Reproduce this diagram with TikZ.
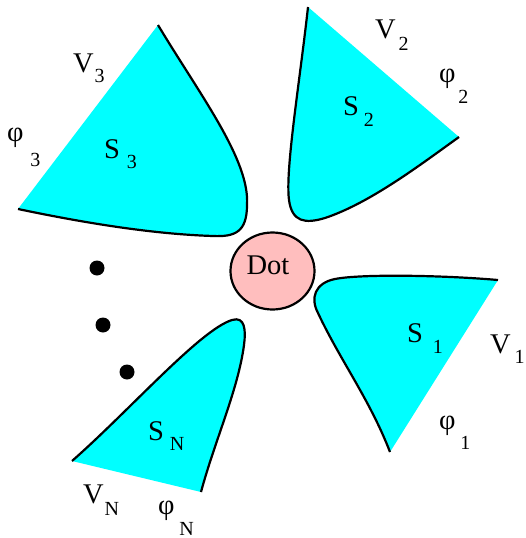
\documentclass[tikz,border=0pt]{standalone}
\usepackage{fontspec}
\setmainfont{Liberation Serif}
\newfontfamily\tnr{Liberation Serif}
\usetikzlibrary{shapes.geometric}
\newcommand\mainf{\tnr\fontsize{28.5}{30}\selectfont}
\newcommand\subf{\tnr\fontsize{20}{20}\selectfont}
\newcommand\lbl[4]{\mainf #1\hspace{#2pt}\raisebox{-#3pt}{\subf #4}}
\definecolor{leadcyan}{RGB}{0,255,255}
\definecolor{dotpink}{RGB}{255,190,190}
\tikzset{
  lead/.style={fill=leadcyan},
  leadedge/.style={draw=black, line width=2.2pt},
  txt/.style={anchor=base west, inner sep=0pt, outer sep=0pt, font=\tnr},
  bullet/.style={circle, fill=black, minimum size=15pt, inner sep=0pt},
}
\begin{document}
\begin{tikzpicture}[x=1pt,y=-1pt]
\useasboundingbox (0,0) rectangle (525,538);
% S3
\fill[lead] (18,209) -- (158,25) .. controls (200,95) and (250,160) .. (247,205)
  .. controls (247,232) and (235,237) .. (213,236)
  .. controls (150,234) and (80,222) .. (18,209) -- cycle;
\draw[leadedge] (158,25) .. controls (200,95) and (250,160) .. (247,205)
  .. controls (247,232) and (235,237) .. (213,236)
  .. controls (150,234) and (80,222) .. (18,209);
% S2
\fill[lead] (459,137) -- (308,7) .. controls (300,80) and (285,170) .. (289,200)
  .. controls (292,222) and (305,224) .. (325,218)
  .. controls (370,203) and (420,165) .. (459,137) -- cycle;
\draw[leadedge] (308,7) .. controls (300,80) and (285,170) .. (289,200)
  .. controls (292,222) and (305,224) .. (325,218)
  .. controls (370,203) and (420,165) .. (459,137);
% S1
\fill[lead] (390,452) -- (498,280) .. controls (440,275) and (360,274) .. (335,279)
  .. controls (315,283) and (310,298) .. (318,313)
  .. controls (340,360) and (370,400) .. (390,452) -- cycle;
\draw[leadedge] (498,280) .. controls (440,275) and (360,274) .. (335,279)
  .. controls (315,283) and (310,298) .. (318,313)
  .. controls (340,360) and (370,400) .. (390,452);
% SN
\fill[lead] (201,492) -- (72,461) .. controls (130,410) and (200,330) .. (232,320)
  .. controls (245,316) and (246,330) .. (244,345)
  .. controls (238,390) and (215,440) .. (201,492) -- cycle;
\draw[leadedge] (72,461) .. controls (130,410) and (200,330) .. (232,320)
  .. controls (245,316) and (246,330) .. (244,345)
  .. controls (238,390) and (215,440) .. (201,492);
% Dot
\node[ellipse, draw=black, line width=2.2pt, fill=dotpink, minimum width=84pt, minimum height=77pt, inner sep=0pt] (dot) at (272.5,271) {};
\node[anchor=base, inner sep=0pt] (dottext) at (268,274.5) {\mainf Dot};
% bullets
\node[bullet] (b1) at (97,268) {};
\node[bullet] (b2) at (103,325) {};
\node[bullet] (b3) at (127,372) {};
% labels
\node[txt] (v3) at (73,72) {\lbl{V}{1}{10}{3}};
\node[txt] (p3) at (7,141) {\lbl{φ}{7}{25}{3}};
\node[txt] (s3) at (104,158) {\lbl{S}{7}{10}{3}};
\node[txt] (v2) at (375,38) {\lbl{V}{3}{12}{2}};
\node[txt] (p2) at (439,82) {\lbl{φ}{3}{21}{2}};
\node[txt] (s2) at (343,115) {\lbl{S}{5}{11}{2}};
\node[txt] (v1) at (490,353) {\lbl{V}{4}{10}{1}};
\node[txt] (p1) at (439,429) {\lbl{φ}{5}{20}{1}};
\node[txt] (s1) at (407,342) {\lbl{S}{10}{11}{1}};
\node[txt] (vn) at (83,503) {\lbl{V}{1}{12}{N}};
\node[txt] (pn) at (158,514) {\lbl{φ}{5}{21}{N}};
\node[txt] (sn) at (148,440) {\lbl{S}{6}{10}{N}};
\end{tikzpicture}
\end{document}
